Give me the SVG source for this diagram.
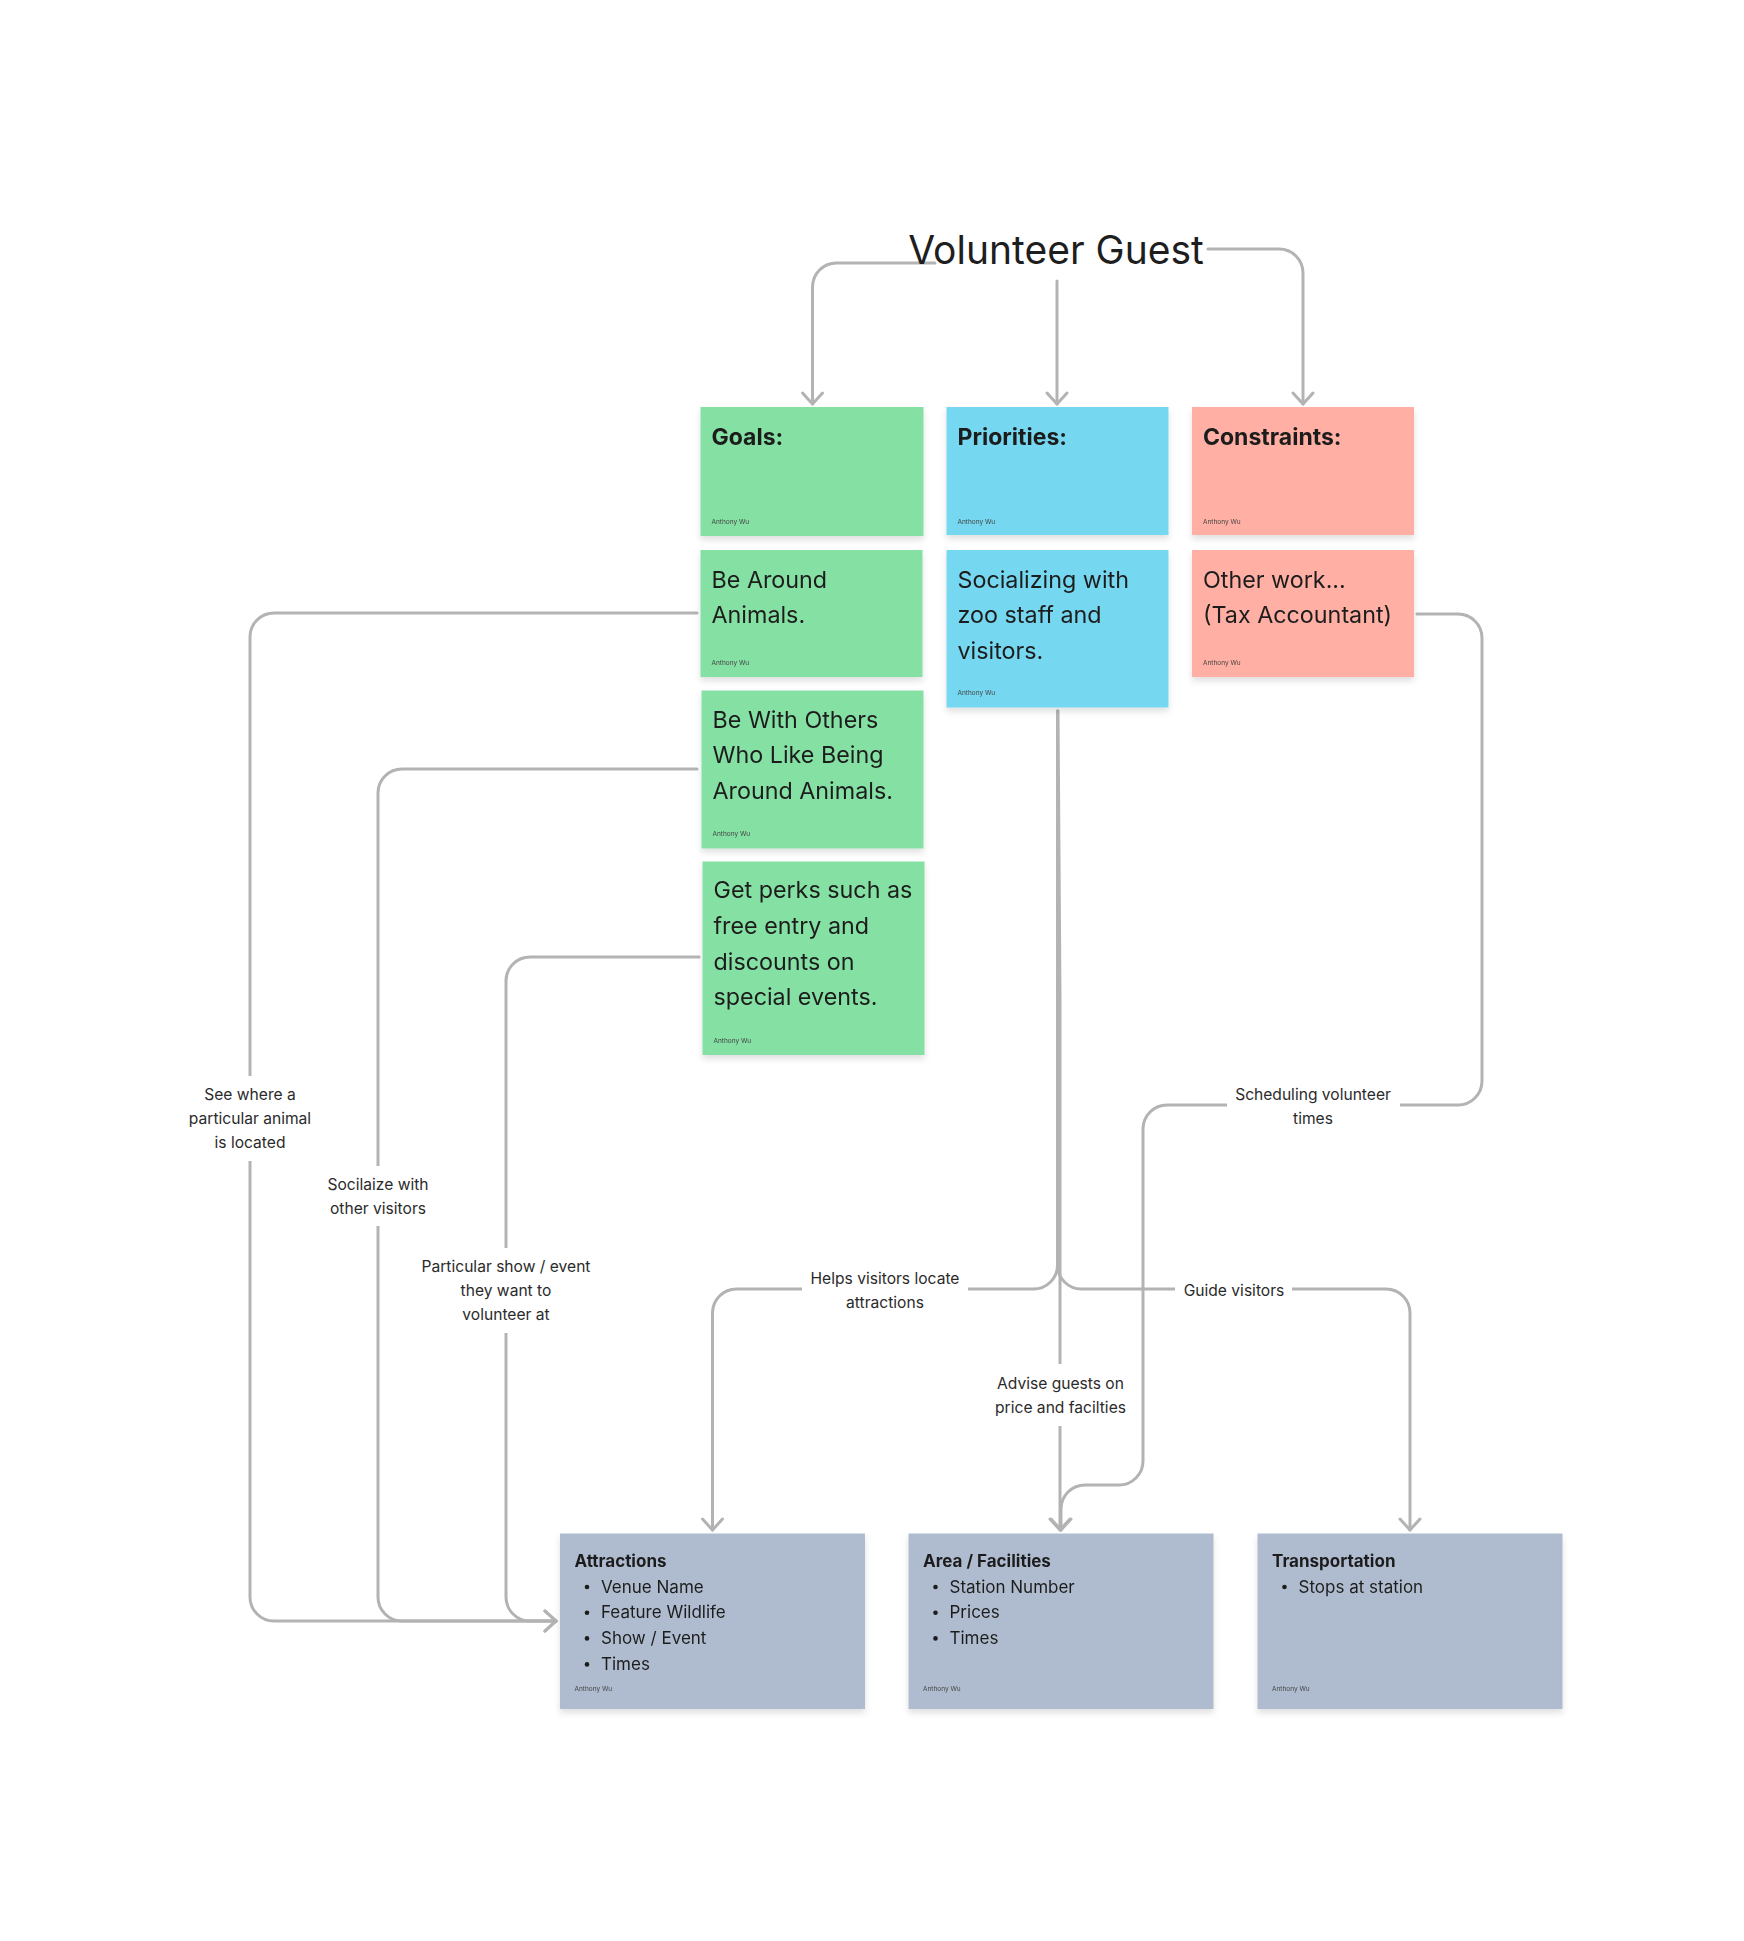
<svg xmlns="http://www.w3.org/2000/svg" width="1744" height="1941" viewBox="0 0 1744 1941">
<style>
.conn{fill:none;stroke:#b3b3b3;stroke-width:3;stroke-linecap:round;stroke-linejoin:round}
.title{font-family:Inter,"Noto Sans",sans-serif;font-size:39px;fill:#1e1e1e}
.head{font-family:Inter,"Noto Sans",sans-serif;font-size:23px;font-weight:700;fill:#1e1e1e}
.body{font-family:Inter,"Noto Sans",sans-serif;font-size:23.3px;fill:#1e1e1e}
.auth{font-family:Inter,"Noto Sans",sans-serif;font-size:6.5px;fill:#444}
.bhead{font-family:Inter,"Noto Sans",sans-serif;font-size:17px;font-weight:700;fill:#1e1e1e}
.btxt{font-family:Inter,"Noto Sans",sans-serif;font-size:17px;fill:#1e1e1e}
.lbl{font-family:Inter,"Noto Sans",sans-serif;font-size:15.6px;fill:#2b2b2b;text-anchor:middle}
.green{fill:#85E0A3}.teal{fill:#75D7F0}.red{fill:#FFAFA3}.gray{fill:#AFBCCF}
</style>
<defs>
<filter id="sh" x="-10%" y="-10%" width="120%" height="130%">
<feDropShadow dx="0" dy="4" stdDeviation="3" flood-color="#000" flood-opacity="0.12"/>
</filter>
<marker id="arr" viewBox="-14 -14 28 28" markerWidth="28" markerHeight="28" markerUnits="userSpaceOnUse" refX="0" refY="0" orient="auto">
<path d="M -11 -10 L 0 0 L -11 10" fill="none" stroke="#b3b3b3" stroke-width="3" stroke-linecap="round" stroke-linejoin="round"/>
</marker>
</defs>
<rect width="1744" height="1941" fill="#ffffff"/>

<g id="connectors">
<path class="conn" d="M 935 263 H 836.5 A 24 24 0 0 0 812.5 287 V 404" marker-end="url(#arr)"/>
<path class="conn" d="M 1057 281 V 404" marker-end="url(#arr)"/>
<path class="conn" d="M 1208 249 H 1279 A 24 24 0 0 1 1303 273 V 404" marker-end="url(#arr)"/>
<path class="conn" d="M 697 613 H 274 A 24 24 0 0 0 250 637 V 1597 A 24 24 0 0 0 274 1621 H 556" marker-end="url(#arr)"/>
<path class="conn" d="M 697 769 H 402 A 24 24 0 0 0 378 793 V 1597 A 24 24 0 0 0 402 1621 H 556" marker-end="url(#arr)"/>
<path class="conn" d="M 699 957 H 530 A 24 24 0 0 0 506 981 V 1597 A 24 24 0 0 0 530 1621 H 556" marker-end="url(#arr)"/>
<path class="conn" d="M 1057.5 711 V 1265 A 24 24 0 0 1 1033.5 1289 H 736.5 A 24 24 0 0 0 712.5 1313 V 1530" marker-end="url(#arr)"/>
<path class="conn" d="M 1057.5 711 V 1265 A 24 24 0 0 0 1081.5 1289 H 1386 A 24 24 0 0 1 1410 1313 V 1530" marker-end="url(#arr)"/>
<path class="conn" d="M 1058 711 L 1060 1000 V 1530" marker-end="url(#arr)"/>
<path class="conn" d="M 1417 614 H 1458 A 24 24 0 0 1 1482 638 V 1081 A 24 24 0 0 1 1458 1105 H 1167 A 24 24 0 0 0 1143 1129 V 1461 A 24 24 0 0 1 1119 1485 H 1085 A 24 24 0 0 0 1061 1509 V 1530" marker-end="url(#arr)"/>
<g id="labels">
<rect x="180" y="1076" width="140" height="85" fill="#fff"/>
<text class="lbl" x="250" y="1099.5">See where a</text>
<text class="lbl" x="250" y="1123.5">particular animal</text>
<text class="lbl" x="250" y="1147.5">is located</text>
<rect x="318" y="1166" width="120" height="60" fill="#fff"/>
<text class="lbl" x="378" y="1189.5">Socilaize with</text>
<text class="lbl" x="378" y="1213.5">other visitors</text>
<rect x="421" y="1248" width="170" height="85" fill="#fff"/>
<text class="lbl" x="506" y="1272">Particular show / event</text>
<text class="lbl" x="506" y="1296">they want to</text>
<text class="lbl" x="506" y="1320">volunteer at</text>
<rect x="802" y="1262" width="166" height="55" fill="#fff"/>
<text class="lbl" x="885" y="1284">Helps visitors locate</text>
<text class="lbl" x="885" y="1308">attractions</text>
<rect x="990" y="1364" width="141" height="62" fill="#fff"/>
<text class="lbl" x="1060.5" y="1388.5">Advise guests on</text>
<text class="lbl" x="1060.5" y="1412.5">price and facilties</text>
<rect x="1175" y="1275" width="117" height="30" fill="#fff"/>
<text class="lbl" x="1234" y="1295.5">Guide visitors</text>
<rect x="1227" y="1080" width="173" height="52" fill="#fff"/>
<text class="lbl" x="1313" y="1099.5">Scheduling volunteer</text>
<text class="lbl" x="1313" y="1123.5">times</text>
</g>
</g>

<g id="title">
<text class="title" x="1056" y="263.5" text-anchor="middle">Volunteer Guest</text>
</g>

<g id="goals" filter="url(#sh)">
<rect class="green" x="700.5" y="407" width="223" height="129"/>
<text class="head" x="711.5" y="445">Goals:</text>
<text class="auth" x="711.5" y="524">Anthony Wu</text>
</g>
<g id="priorities" filter="url(#sh)">
<rect class="teal" x="946.5" y="407" width="222" height="128"/>
<text class="head" x="957.5" y="445">Priorities:</text>
<text class="auth" x="957.5" y="524">Anthony Wu</text>
</g>
<g id="constraints" filter="url(#sh)">
<rect class="red" x="1192" y="407" width="222" height="128"/>
<text class="head" x="1203" y="445">Constraints:</text>
<text class="auth" x="1203" y="524">Anthony Wu</text>
</g>
<g id="be-around" filter="url(#sh)">
<rect class="green" x="700.5" y="550" width="222" height="127"/>
<text class="body" x="711.5" y="587.7">Be Around</text>
<text class="body" x="711.5" y="623.3">Animals.</text>
<text class="auth" x="711.5" y="665">Anthony Wu</text>
</g>
<g id="socializing" filter="url(#sh)">
<rect class="teal" x="946.5" y="550" width="222" height="157.5"/>
<text class="body" x="957.5" y="587.7">Socializing with</text>
<text class="body" x="957.5" y="623.3">zoo staff and</text>
<text class="body" x="957.5" y="659">visitors.</text>
<text class="auth" x="957.5" y="695">Anthony Wu</text>
</g>
<g id="other-work" filter="url(#sh)">
<rect class="red" x="1192" y="550" width="222" height="127"/>
<text class="body" x="1203" y="587.7">Other work...</text>
<text class="body" x="1203" y="623.3">(Tax Accountant)</text>
<text class="auth" x="1203" y="665">Anthony Wu</text>
</g>
<g id="be-with-others" filter="url(#sh)">
<rect class="green" x="701.5" y="690.5" width="222" height="158"/>
<text class="body" x="712.5" y="727.7">Be With Others</text>
<text class="body" x="712.5" y="763.3">Who Like Being</text>
<text class="body" x="712.5" y="799">Around Animals.</text>
<text class="auth" x="712.5" y="835.7">Anthony Wu</text>
</g>
<g id="get-perks" filter="url(#sh)">
<rect class="green" x="702.5" y="861.5" width="222" height="193.5"/>
<text class="body" x="713.5" y="898.3">Get perks such as</text>
<text class="body" x="713.5" y="934">free entry and</text>
<text class="body" x="713.5" y="969.5">discounts on</text>
<text class="body" x="713.5" y="1005">special events.</text>
<text class="auth" x="713.5" y="1042.7">Anthony Wu</text>
</g>

<g id="attractions" filter="url(#sh)">
<rect class="gray" x="560" y="1533.5" width="305" height="175.5"/>
<text class="bhead" x="574.5" y="1566.7">Attractions</text>
<circle cx="587" cy="1587" r="2.3" fill="#1e1e1e"/>
<text class="btxt" x="601" y="1592.7">Venue Name</text>
<circle cx="587" cy="1612.7" r="2.3" fill="#1e1e1e"/>
<text class="btxt" x="601" y="1618.3">Feature Wildlife</text>
<circle cx="587" cy="1638.4" r="2.3" fill="#1e1e1e"/>
<text class="btxt" x="601" y="1644">Show / Event</text>
<circle cx="587" cy="1664.4" r="2.3" fill="#1e1e1e"/>
<text class="btxt" x="601" y="1670">Times</text>
<text class="auth" x="574.5" y="1691">Anthony Wu</text>
</g>
<g id="area-facilities" filter="url(#sh)">
<rect class="gray" x="908.5" y="1533.5" width="305" height="175.5"/>
<text class="bhead" x="923" y="1566.7">Area / Facilities</text>
<circle cx="935.5" cy="1587" r="2.3" fill="#1e1e1e"/>
<text class="btxt" x="949.5" y="1592.7">Station Number</text>
<circle cx="935.5" cy="1612.7" r="2.3" fill="#1e1e1e"/>
<text class="btxt" x="949.5" y="1618.3">Prices</text>
<circle cx="935.5" cy="1638.4" r="2.3" fill="#1e1e1e"/>
<text class="btxt" x="949.5" y="1644">Times</text>
<text class="auth" x="923" y="1691">Anthony Wu</text>
</g>
<g id="transportation" filter="url(#sh)">
<rect class="gray" x="1257.5" y="1533.5" width="305" height="175.5"/>
<text class="bhead" x="1272" y="1566.7">Transportation</text>
<circle cx="1284.5" cy="1587" r="2.3" fill="#1e1e1e"/>
<text class="btxt" x="1298.5" y="1592.7">Stops at station</text>
<text class="auth" x="1272" y="1691">Anthony Wu</text>
</g>
</svg>
